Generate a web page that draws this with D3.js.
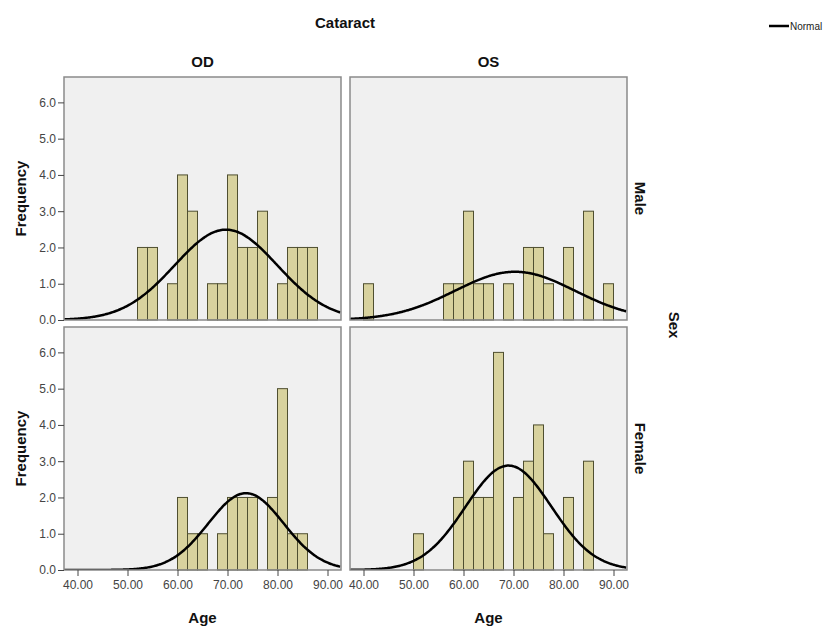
<html>
<head>
<style>
  body { margin: 0; background: #fff; }
  text { font-family: "Liberation Sans", Arial, sans-serif; }
  .tick text { fill: #444; font-size: 12px; }
  .axis path { display: none; }
  .axis line { stroke: #444; }
  .lab { font-weight: bold; font-size: 15px; fill: #111; }
</style>
</head>
<body>
<svg width="831" height="627"></svg>
<script src="https://d3js.org/d3.v7.min.js"></script>
<script>

// histogram bin starts (age, 2-year bins) and counts
var odMaleBins   = [52, 54, 58, 60, 62, 66, 68, 70, 72, 74, 76, 80, 82, 84, 86];
var odMaleCounts = [ 2,  2,  1,  4,  3,  1,  1,  4,  2,  2,  3,  1,  2,  2,  2];

var osMaleBins   = [40, 56, 58, 60, 62, 64, 68, 72, 74, 76, 80, 84, 88];
var osMaleCounts = [ 1,  1,  1,  3,  1,  1,  1,  2,  2,  1,  2,  3,  1];

var odFemaleBins   = [60, 62, 64, 68, 70, 72, 74, 78, 80, 82, 84];
var odFemaleCounts = [ 2,  1,  1,  1,  2,  2,  2,  2,  5,  1,  1];

var osFemaleBins   = [50, 58, 60, 62, 64, 66, 70, 72, 74, 76, 80, 84];
var osFemaleCounts = [ 1,  2,  3,  2,  2,  6,  2,  3,  4,  1,  2,  3];

// normal curve fit per panel: mean, sd (estimated from the curve)
var normalMean = [69.7, 70.3, 73.7, 69.0];
var normalSd   = [10.25, 12.0, 7.53, 8.59];

var binWidth = 2;
var xTicks = [40, 50, 60, 70, 80, 90];
var yTicks = [0, 1, 2, 3, 4, 5, 6];
var colNames = ["OD", "OS"];
var rowNames = ["Male", "Female"];

var panels = [
  {bins: odMaleBins, counts: odMaleCounts, col: 0, row: 0},
  {bins: osMaleBins, counts: osMaleCounts, col: 1, row: 0},
  {bins: odFemaleBins, counts: odFemaleCounts, col: 0, row: 1},
  {bins: osFemaleBins, counts: osFemaleCounts, col: 1, row: 1}
];

var svg = d3.select("svg");
var colX = [[64, 341], [350, 627]];
var rowY = [[320, 77], [570, 327]];

svg.append("text").attr("class", "lab").attr("x", 345).attr("y", 28)
   .attr("text-anchor", "middle").text("Cataract");

// legend
svg.append("line").attr("x1", 769).attr("x2", 789).attr("y1", 26).attr("y2", 26)
   .attr("stroke", "#000").attr("stroke-width", 2.5);
svg.append("text").attr("x", 790).attr("y", 29.5).style("font-size", "10px")
   .attr("fill", "#222").text("Normal");

colNames.forEach(function(c, i) {
  svg.append("text").attr("class", "lab").attr("x", (colX[i][0] + colX[i][1]) / 2)
     .attr("y", 67).attr("text-anchor", "middle").text(c);
  svg.append("text").attr("class", "lab").attr("x", (colX[i][0] + colX[i][1]) / 2)
     .attr("y", 623).attr("text-anchor", "middle").text("Age");
});
rowNames.forEach(function(r, i) {
  var cy = (rowY[i][0] + rowY[i][1]) / 2;
  svg.append("text").attr("class", "lab")
     .attr("transform", "translate(635," + cy + ") rotate(90)")
     .attr("text-anchor", "middle").text(r);
  svg.append("text").attr("class", "lab")
     .attr("transform", "translate(26," + cy + ") rotate(-90)")
     .attr("text-anchor", "middle").text("Frequency");
});
svg.append("text").attr("class", "lab")
   .attr("transform", "translate(669,325) rotate(90)")
   .attr("text-anchor", "middle").text("Sex");

panels.forEach(function(p, k) {
  var x = d3.scaleLinear().domain([37.3, 92.7]).range(colX[p.col]);
  var y = d3.scaleLinear().domain([0, 6.7]).range(rowY[p.row]);
  var g = svg.append("g");

  g.append("clipPath").attr("id", "clip" + k).append("rect")
   .attr("x", colX[p.col][0]).attr("y", rowY[p.row][1])
   .attr("width", colX[p.col][1] - colX[p.col][0])
   .attr("height", rowY[p.row][0] - rowY[p.row][1]);

  g.append("rect")
   .attr("x", colX[p.col][0]).attr("y", rowY[p.row][1])
   .attr("width", colX[p.col][1] - colX[p.col][0])
   .attr("height", rowY[p.row][0] - rowY[p.row][1])
   .attr("fill", "#f0f0f0");

  g.selectAll(".bar").data(p.bins).enter().append("rect")
   .attr("class", "bar")
   .attr("x", function(d) { return x(d); })
   .attr("width", function(d) { return x(d + binWidth) - x(d); })
   .attr("y", function(d, i) { return y(p.counts[i]); })
   .attr("height", function(d, i) { return y(0) - y(p.counts[i]); })
   .attr("fill", "#d8d29e").attr("stroke", "#4f4f30").attr("stroke-width", 1);

  var n = d3.sum(p.counts), m = normalMean[k], s = normalSd[k];
  var pts = d3.range(37.3, 92.8, 0.25);
  var line = d3.line()
    .x(function(d) { return x(d); })
    .y(function(d) {
      var z = (d - m) / s;
      return y(n * binWidth * Math.exp(-0.5 * z * z) / (s * Math.sqrt(2 * Math.PI)));
    })
    .curve(d3.curveBasis);
  g.append("path").datum(pts).attr("d", line)
   .attr("clip-path", "url(#clip" + k + ")")
   .attr("fill", "none").attr("stroke", "#000").attr("stroke-width", 2.5);

  g.append("rect")
   .attr("x", colX[p.col][0]).attr("y", rowY[p.row][1])
   .attr("width", colX[p.col][1] - colX[p.col][0])
   .attr("height", rowY[p.row][0] - rowY[p.row][1])
   .attr("fill", "none").attr("stroke", "#8a8a8a").attr("stroke-width", 1.5);

  if (p.col === 0) {
    svg.append("g").attr("class", "axis")
       .attr("transform", "translate(" + colX[0][0] + ",0)")
       .call(d3.axisLeft(y).tickValues(yTicks).tickSize(6).tickPadding(2)
             .tickFormat(d3.format(".1f")));
  }
  if (p.row === 1) {
    svg.append("g").attr("class", "axis")
       .attr("transform", "translate(0," + rowY[1][0] + ")")
       .call(d3.axisBottom(x).tickValues(xTicks).tickSize(6).tickPadding(4)
             .tickFormat(d3.format(".2f")));
  }
});

</script>
</body>
</html>
